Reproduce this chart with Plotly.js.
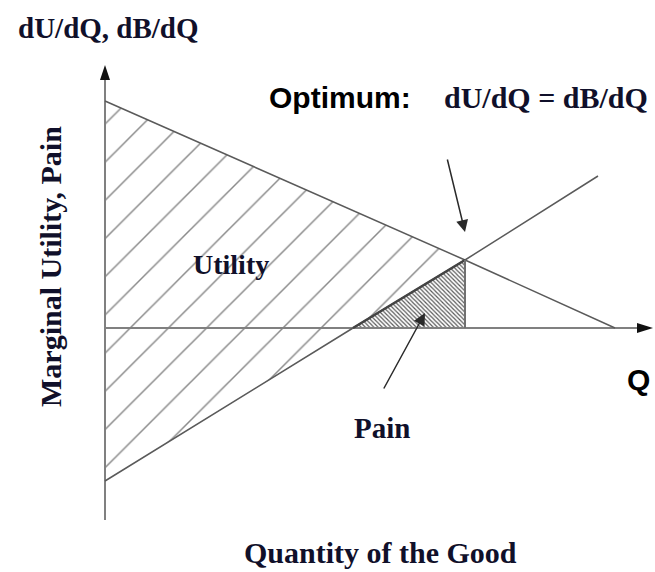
<!DOCTYPE html>
<html>
<head>
<meta charset="utf-8">
<script src="https://cdn.plot.ly/plotly-3.0.1.min.js"></script>
<style>html,body{margin:0;padding:0;background:#fff;}#chart{width:655px;height:572px;}</style>
</head>
<body>
<div id="chart"></div>
<script>
// Marginal utility line (dU/dQ)
const muQ = [0, 36, 51];
const muValue = [22.7, 6.8, 0];
// Marginal pain line (dB/dQ)
const painQ = [0, 24.8, 36, 49.3];
const painValue = [-15.3, 0, 6.8, 15.2];
// Optimum quantity
const optimumQ = 36;
const optimumValue = 6.8;
// Axis extents
const qAxisEnd = 54.8;
const valueAxisMin = -19.2;
const valueAxisMax = 26.3;

const serif = "Liberation Serif, Times New Roman, serif";
const sans = "Liberation Sans, Arial, sans-serif";
const textColor = "#10102a";

const traces = [
  // utility region (between the two lines, left of optimum)
  {
    x: [muQ[0], optimumQ, painQ[0], muQ[0]],
    y: [muValue[0], optimumValue, painValue[0], muValue[0]],
    mode: "lines", fill: "toself", line: {width: 0, color: "rgba(0,0,0,0)"},
    fillcolor: "rgba(0,0,0,0)",
    fillpattern: {shape: "/", size: 27, solidity: 0.055, fgcolor: "#8a8a8a", bgcolor: "rgba(0,0,0,0)"},
    hoverinfo: "skip"
  },
  // pain region
  {
    x: [painQ[1], optimumQ, optimumQ, painQ[1]],
    y: [painValue[1], optimumValue, 0, painValue[1]],
    mode: "lines", fill: "toself", line: {width: 0, color: "rgba(0,0,0,0)"},
    fillcolor: "rgba(0,0,0,0)",
    fillpattern: {shape: "\\", size: 3, solidity: 0.4, fgcolor: "#5a5a5a", bgcolor: "#ffffff"},
    hoverinfo: "skip"
  },
  // axes
  {x: [0, 0], y: [valueAxisMin, valueAxisMax - 1], mode: "lines", line: {color: "#808080", width: 2}, hoverinfo: "skip"},
  {x: [0, qAxisEnd - 1], y: [0, 0], mode: "lines", line: {color: "#808080", width: 2}, hoverinfo: "skip"},
  // marginal utility line
  {x: muQ, y: muValue, mode: "lines", line: {color: "#5a5a5a", width: 1.5}, hoverinfo: "skip"},
  // pain line
  {x: painQ, y: painValue, mode: "lines", line: {color: "#5a5a5a", width: 1.5}, hoverinfo: "skip"},
  // pain region edge (heavier)
  {x: [painQ[1], optimumQ], y: [painValue[1], optimumValue], mode: "lines", line: {color: "#444", width: 2.5}, hoverinfo: "skip"},
  // optimum vertical
  {x: [optimumQ, optimumQ], y: [0, optimumValue], mode: "lines", line: {color: "#707070", width: 2}, hoverinfo: "skip"}
];

const shapes = [
  {type: "path", xref: "x", yref: "y", xsizemode: "pixel", ysizemode: "pixel",
   xanchor: 0, yanchor: valueAxisMax, path: "M-5,-15 L5,-15 L0,0 Z",
   fillcolor: "#111", line: {width: 0}},
  {type: "path", xref: "x", yref: "y", xsizemode: "pixel", ysizemode: "pixel",
   xanchor: qAxisEnd, yanchor: 0, path: "M-16,-5 L-16,5 L0,0 Z",
   fillcolor: "#111", line: {width: 0}}
];

function txt(text, x, y, family, size, extra) {
  return Object.assign({
    text: text, x: x, y: y, xref: "x", yref: "y", showarrow: false,
    font: {family: family, size: size, color: textColor},
    xanchor: "center", yanchor: "middle"
  }, extra || {});
}

const annotations = [
  txt("<b>dU/dQ, dB/dQ</b>", 0.3, 30.0, serif, 29),
  txt("<b>Optimum:</b>", 16.2, 23.1, sans, 30, {xanchor: "left", font: {family: sans, size: 30, color: "#000"}}),
  txt("<b>dU/dQ = dB/dQ</b>", 54.5, 23.1, serif, 30, {xanchor: "right"}),
  txt("<b>Utility</b>", 12.6, 6.4, serif, 28),
  txt("<b>Pain</b>", 27.7, -10.0, serif, 29),
  txt("<b>Q</b>", 53.3, -5.1, sans, 30, {font: {family: sans, size: 30, color: "#000"}}),
  txt("<b>Marginal Utility, Pain</b>", -5.5, 6.1, serif, 30, {textangle: -90}),
  txt("<b>Quantity of the Good</b>", 27.5, -22.4, serif, 30),
  // arrows
  {x: optimumQ, y: 9.6, xref: "x", yref: "y", ax: -18, ay: -74, showarrow: true,
   arrowhead: 2, arrowsize: 1.6, arrowwidth: 1.5, arrowcolor: "#2a2a2a", standoff: 0, text: ""},
  {x: 32, y: 1.5, xref: "x", yref: "y", ax: -42, ay: 77, showarrow: true,
   arrowhead: 2, arrowsize: 1.6, arrowwidth: 1.5, arrowcolor: "#2a2a2a", standoff: 0, text: ""}
];

const layout = {
  width: 655, height: 572,
  margin: {l: 0, r: 0, t: 0, b: 0},
  paper_bgcolor: "#ffffff", plot_bgcolor: "#ffffff",
  showlegend: false,
  xaxis: {range: [-10.5, 55], visible: false, fixedrange: true},
  yaxis: {range: [-24.4, 32.8], visible: false, fixedrange: true},
  shapes: shapes,
  annotations: annotations
};

Plotly.newPlot("chart", traces, layout, {displayModeBar: false, staticPlot: true});
</script>
</body>
</html>
